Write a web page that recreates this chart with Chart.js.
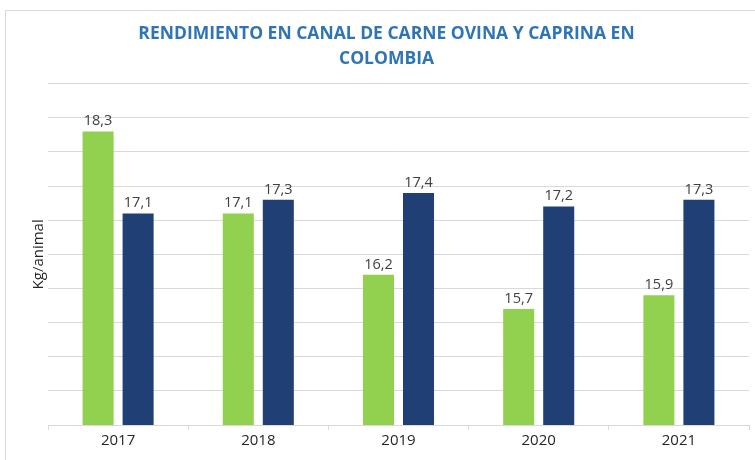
<!DOCTYPE html>
<html>
<head>
<meta charset="utf-8">
<script src="https://cdn.jsdelivr.net/npm/chart.js@4.4.0/dist/chart.umd.min.js"></script>
<style>
  html, body { margin: 0; padding: 0; background: #fff; }
  #marco {
    position: absolute; left: 5px; top: 10px; width: 750px; height: 450px;
    border-top: 1px solid #d9d9d9; border-left: 1px solid #d9d9d9;
  }
</style>
</head>
<body>
<div id="marco"><canvas id="myChart"></canvas></div>
<script>
// dati
const anni = ['2017', '2018', '2019', '2020', '2021'];
const serieVerde = [18.3, 17.1, 16.2, 15.7, 15.9];
const serieBlu = [17.1, 17.3, 17.4, 17.2, 17.3];
const titolo = ['RENDIMIENTO EN CANAL DE CARNE OVINA Y CAPRINA EN', 'COLOMBIA'];
const etichettaY = 'Kg/animal';

// etichette sopra le barre, con la virgola come separatore
const etichetteBarre = {
  id: 'etichetteBarre',
  afterDatasetsDraw(chart) {
    const ctx = chart.ctx;
    ctx.save();
    ctx.font = '14.5px "Open Sans"';
    ctx.fillStyle = '#404040';
    ctx.textAlign = 'center';
    ctx.textBaseline = 'bottom';
    chart.data.datasets.forEach((ds, i) => {
      chart.getDatasetMeta(i).data.forEach((bar, j) => {
        ctx.fillText(ds.data[j].toFixed(1).replace('.', ','), bar.x, bar.y - 3);
      });
    });
    ctx.restore();
  }
};

var ctx = document.getElementById('myChart').getContext('2d');
var chart = new Chart(ctx, {
  type: 'bar',
  data: {
    labels: anni,
    datasets: [
      { data: serieVerde, backgroundColor: '#92D050', barPercentage: 0.775, categoryPercentage: 0.571 },
      { data: serieBlu, backgroundColor: '#203F74', barPercentage: 0.775, categoryPercentage: 0.571 }
    ]
  },
  options: {
    responsive: true,
    maintainAspectRatio: false,
    animation: false,
    layout: { padding: { left: 18, right: 7, top: 0, bottom: 0 } },
    plugins: {
      legend: { display: false },
      tooltip: { enabled: false },
      title: {
        display: true,
        text: titolo,
        color: '#2F75B5',
        font: { family: 'Open Sans', size: 17.5, weight: 'bold', lineHeight: 1.42 },
        padding: { top: 11, bottom: 12 }
      }
    },
    scales: {
      y: {
        min: 14,
        max: 19,
        ticks: { display: false, stepSize: 0.5 },
        grid: { color: '#d9d9d9', drawTicks: false },
        border: { display: false },
        title: {
          display: true,
          text: etichettaY,
          color: '#262626',
          font: { family: 'Open Sans', size: 15 },
          padding: { top: 6, bottom: 0 }
        },
        afterFit(scale) { scale.width = 24; }
      },
      x: {
        grid: { color: '#d9d9d9', drawOnChartArea: false, tickLength: 5 },
        border: { color: '#d9d9d9' },
        ticks: { color: '#262626', font: { family: 'Open Sans', size: 15 }, padding: 2 },
        afterFit(scale) { scale.height = 36; }
      }
    }
  },
  plugins: [etichetteBarre]
});
</script>
</body>
</html>
